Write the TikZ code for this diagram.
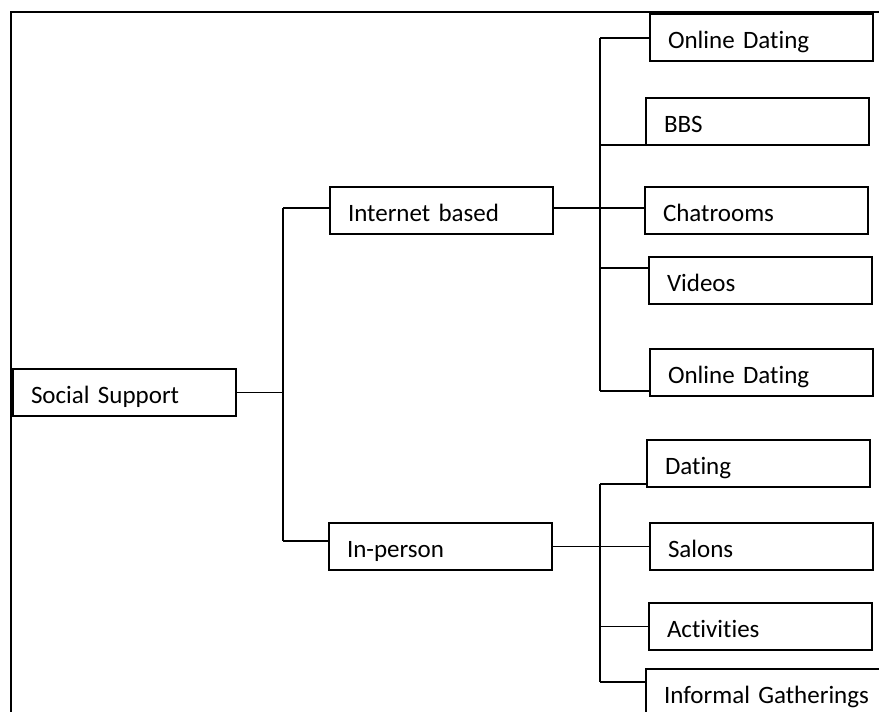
\documentclass[tikz,border=0pt]{standalone}
\usepackage{fontspec}
\setmainfont{Carlito}[Ligatures={NoCommon}]
\usetikzlibrary{positioning}

\begin{document}
\begin{tikzpicture}[x=0.75pt, y=-0.75pt,
  textbox/.style={draw, line width=1.1pt, anchor=north west, outer sep=0pt,
    inner xsep=0pt, inner ysep=0pt, text width=167.25pt,
    text height=26.25pt, text depth=9pt, align=left,
    font=\fontsize{18.75}{22}\selectfont,
    execute at begin node=\hspace*{13.5pt}},
  link/.style={line width=1.1pt}]
\clip (0,0) rectangle (879,712);
\draw[line width=1.6pt] (11,712) -- (11,12) -- (879,12);
\node[textbox] (social)     at (13,369)  {Social Support};
\node[textbox] (internet)   at (330,187) {Internet based};
\node[textbox] (inperson)   at (329,523) {In-person};
\node[textbox] (dating1)    at (650,14)  {Online Dating};
\node[textbox] (bbs)        at (646,98)  {BBS};
\node[textbox] (chat)       at (645,187) {Chatrooms};
\node[textbox] (videos)     at (649,257) {Videos};
\node[textbox] (dating2)    at (650,349) {Online Dating};
\node[textbox] (dating3)    at (647,440) {Dating};
\node[textbox] (salons)     at (650,523) {Salons};
\node[textbox] (activities) at (649,603) {Activities};
\node[textbox, text width=187.5pt] (informal) at (646,669) {Informal Gatherings};
% branch points
\coordinate (roottop)   at (283,208);
\coordinate (rootbot)   at (283,541);
\coordinate (nettop)    at (600,38);
\coordinate (netbot)    at (600,391);
\coordinate (videolink) at (600,268);
\coordinate (pertop)    at (600,484);
\coordinate (perbot)    at (600,682);
% root
\draw[link] (social.east) -- (social.east -| roottop);
\draw[link] (roottop) -- (rootbot);
\draw[link] (roottop) -- (roottop -| internet.west);
\draw[link] (rootbot) -- (rootbot -| inperson.west);
% internet based
\draw[link] (roottop -| internet.east) -- (roottop -| nettop);
\draw[link] (nettop) -- (netbot);
\draw[link] (nettop) -- (nettop -| dating1.west);
\draw[link] (bbs.south west) -- (bbs.south west -| nettop);
\draw[link] (roottop -| nettop) -- (roottop -| chat.west);
\draw[link] (videolink) -- (videolink -| videos.west);
\draw[link] (netbot) -- (netbot -| dating2.west);
% in-person
\draw[link] (inperson.east) -- (inperson.east -| pertop);
\draw[link] (pertop) -- (perbot);
\draw[link] (pertop) -- (pertop -| dating3.west);
\draw[link] (salons.west) -- (salons.west -| pertop);
\draw[link] (activities.west) -- (activities.west -| pertop);
\draw[link] (perbot) -- (perbot -| informal.west);
\end{tikzpicture}
\end{document}
